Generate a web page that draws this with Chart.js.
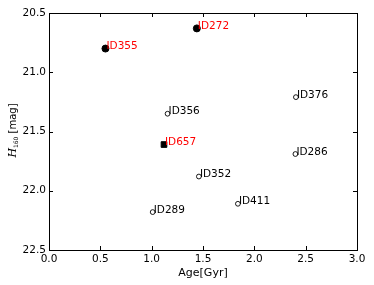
<!DOCTYPE html>
<html>
<head>
<meta charset="utf-8">
<script src="https://cdn.jsdelivr.net/npm/chart.js@4"></script>
<style>
html,body{margin:0;padding:0;background:#fff;}
canvas{display:block;}
</style>
</head>
<body>
<canvas id="c" width="374" height="285" style="width:374px;height:285px"></canvas>
<script>
// Data
const filledIds = ['ID355', 'ID272'];
const filledAge = [0.55, 1.44];
const filledMag = [20.80, 20.63];

const squareIds = ['ID657'];
const squareAge = [1.12];
const squareMag = [21.61];

const openIds = ['ID356', 'ID376', 'ID286', 'ID352', 'ID411', 'ID289'];
const openAge = [1.155, 2.405, 2.40, 1.46, 1.84, 1.01];
const openMag = [21.35, 21.21, 21.69, 21.88, 22.11, 22.18];

const xTicks = [0.0, 0.5, 1.0, 1.5, 2.0, 2.5, 3.0];
const yTicks = [20.5, 21.0, 21.5, 22.0, 22.5];

const FONT = '"DejaVu Sans", sans-serif';

function pts(a, m) { return a.map((v, i) => ({x: v, y: m[i]})); }

const datasets = [
  {label: 'filled', data: pts(filledAge, filledMag), ids: filledIds, textColor: '#ff0000',
   pointStyle: 'circle', pointRadius: 3.5, backgroundColor: '#000', borderColor: '#000', borderWidth: 1},
  {label: 'square', data: pts(squareAge, squareMag), ids: squareIds, textColor: '#ff0000',
   pointStyle: 'rect', pointRadius: 4, backgroundColor: '#000', borderColor: '#000', borderWidth: 1},
  {label: 'open', data: pts(openAge, openMag), ids: openIds, textColor: '#000000',
   pointStyle: 'circle', pointRadius: 2.4, backgroundColor: '#fff', borderColor: '#000', borderWidth: 0.9}
];

const framePlugin = {
  id: 'frame',
  afterDraw(chart) {
    const ctx = chart.ctx, a = chart.chartArea;
    const xs = chart.scales.x, ys = chart.scales.y;
    ctx.save();
    // labels
    ctx.font = '10.5px ' + FONT;
    ctx.textAlign = 'left';
    ctx.textBaseline = 'alphabetic';
    chart.data.datasets.forEach(ds => {
      ds.data.forEach((p, i) => {
        const px = xs.getPixelForValue(p.x), py = ys.getPixelForValue(p.y);
        ctx.fillStyle = ds.textColor;
        ctx.fillText(ds.ids[i], px + 1, py + 0.5);
      });
    });
    // frame
    ctx.strokeStyle = '#000';
    ctx.lineWidth = 1;
    ctx.strokeRect(Math.round(a.left) + 0.5, Math.round(a.top) + 0.5,
                   Math.round(a.right - a.left), Math.round(a.bottom - a.top));
    // inward ticks on all sides
    const L = 4;
    ctx.beginPath();
    xTicks.forEach(v => {
      const x = Math.round(xs.getPixelForValue(v)) + 0.5;
      ctx.moveTo(x, a.bottom); ctx.lineTo(x, a.bottom - L);
      ctx.moveTo(x, a.top); ctx.lineTo(x, a.top + L);
    });
    yTicks.forEach(v => {
      const y = Math.round(ys.getPixelForValue(v)) + 0.5;
      ctx.moveTo(a.left, y); ctx.lineTo(a.left + L, y);
      ctx.moveTo(a.right, y); ctx.lineTo(a.right - L, y);
    });
    ctx.stroke();
    // x title
    ctx.fillStyle = '#000';
    ctx.font = '11px ' + FONT;
    ctx.textAlign = 'center';
    ctx.textBaseline = 'middle';
    ctx.fillText('Age[Gyr]', (a.left + a.right) / 2, 273);
    // y title (rotated) : H_160 [mag]
    ctx.translate(13, (a.top + a.bottom) / 2 - 1);
    ctx.rotate(-Math.PI / 2);
    ctx.textAlign = 'left';
    ctx.textBaseline = 'middle';
    const fH = 'italic 11px "DejaVu Serif", serif', fS = '6px ' + FONT, fM = '10px ' + FONT;
    ctx.font = fH; const wH = ctx.measureText('H').width;
    ctx.font = fS; const wS = ctx.measureText('160').width;
    ctx.font = fM; const wM = ctx.measureText(' [mag]').width;
    let x0 = -(wH + wS + wM) / 2;
    ctx.font = fH; ctx.fillText('H', x0, 0); x0 += wH;
    ctx.font = fS; ctx.fillText('160', x0, 3); x0 += wS;
    ctx.font = fM; ctx.fillText(' [mag]', x0, 0);
    ctx.restore();
  }
};

new Chart(document.getElementById('c'), {
  type: 'scatter',
  data: {datasets},
  options: {
    responsive: false,
    devicePixelRatio: 1,
    animation: false,
    layout: {padding: {left: 0, right: 17, top: 13, bottom: 0}},
    plugins: {legend: {display: false}, tooltip: {enabled: false}},
    scales: {
      x: {
        type: 'linear', min: 0, max: 3,
        afterFit(s) { s.height = 35; },
        afterBuildTicks(s) { s.ticks = xTicks.map(v => ({value: v})); },
        grid: {display: false, drawTicks: false},
        border: {display: false},
        ticks: {padding: 3, color: '#000', font: {family: FONT, size: 10.5},
                callback: v => Number(v).toFixed(1), maxRotation: 0, autoSkip: false}
      },
      y: {
        type: 'linear', min: 20.5, max: 22.5, reverse: true,
        afterFit(s) { s.width = 49; },
        afterBuildTicks(s) { s.ticks = yTicks.map(v => ({value: v})); },
        grid: {display: false, drawTicks: false},
        border: {display: false},
        ticks: {padding: 3, color: '#000', font: {family: FONT, size: 10.5},
                callback: v => Number(v).toFixed(1), autoSkip: false}
      }
    }
  },
  plugins: [framePlugin]
});
</script>
</body>
</html>
